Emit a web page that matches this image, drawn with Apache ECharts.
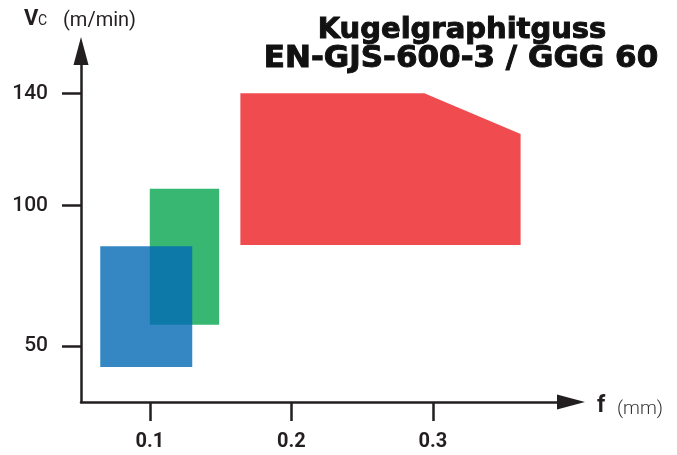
<!DOCTYPE html>
<html>
<head>
<meta charset="utf-8">
<script src="https://cdn.jsdelivr.net/npm/echarts@6/dist/echarts.min.js"></script>
<style>
html,body{margin:0;padding:0;background:#fff;}
#chart{width:677px;height:455px;}
</style>
</head>
<body>
<div id="chart"></div>
<script>
// ---- data ----
const titleLines = ['Kugelgraphitguss', 'EN-GJS-600-3 / GGG 60'];
const xTicks = [0.1, 0.2, 0.3];
const yTicks = [50, 100, 140];
// blue region (feed f in mm, cutting speed Vc in m/min)
const blueF = [0.065, 0.13];
const blueVc = [42.5, 85.5];
// green region
const greenF = [0.1, 0.149];
const greenVc = [57.5, 106];
// red region (polygon outline)
const redF = [0.164, 0.164, 0.294, 0.362, 0.362];
const redVc = [86, 140, 140, 125.5, 86];

const xMin = 0.0514, xMax = 0.3976;
const yMin = 30, yMax = 155.1;

function rectPoints(f, vc) {
  return [[f[0], vc[0]], [f[1], vc[0]], [f[1], vc[1]], [f[0], vc[1]]];
}
function polyPoints(f, vc) {
  return f.map((x, i) => [x, vc[i]]);
}
function polySeries(points, color, z) {
  return {
    type: 'custom',
    coordinateSystem: 'cartesian2d',
    clip: false,
    z: z,
    data: [points[0]],
    renderItem: function (params, api) {
      const pts = points.map(p => api.coord(p));
      return {
        type: 'polygon',
        shape: { points: pts },
        style: { fill: color, stroke: null }
      };
    }
  };
}

const axisColor = '#231f20';
const chart = echarts.init(document.getElementById('chart'), null, { renderer: 'canvas' });
chart.setOption({
  animation: false,
  backgroundColor: '#ffffff',
  grid: { left: 81, right: 106, top: 51, bottom: 53, containLabel: false },
  xAxis: {
    type: 'value', min: xMin, max: xMax,
    splitLine: { show: false },
    axisLine: { onZero: false, lineStyle: { color: axisColor, width: 2.5 }, symbol: ['none', 'triangle'], symbolSize: [15, 28] },
    axisTick: { show: true, length: 19, lineStyle: { color: axisColor, width: 2.5 }, customValues: xTicks },
    axisLabel: { customValues: xTicks, margin: 30, color: axisColor, fontSize: 20, fontFamily: 'Roboto', fontWeight: 'bold' }
  },
  yAxis: {
    type: 'value', min: yMin, max: yMax,
    splitLine: { show: false },
    axisLine: { onZero: false, lineStyle: { color: axisColor, width: 2.5 }, symbol: ['none', 'triangle'], symbolSize: [15, 28] },
    axisTick: { show: true, length: 19, lineStyle: { color: axisColor, width: 2.5 }, customValues: yTicks },
    axisLabel: { customValues: yTicks, margin: 33, color: axisColor, fontSize: 21, fontFamily: 'Roboto', fontWeight: 500 }
  },
  graphic: [
    { type: 'text', x: 462, y: 30, style: { text: titleLines[0], font: 'bold 29px "DejaVu Sans"', fill: '#111', stroke: '#111', lineWidth: 1, align: 'center', verticalAlign: 'middle' } },
    { type: 'text', x: 461, y: 59, style: { text: titleLines[1], font: 'bold 31px "DejaVu Sans"', fill: '#111', stroke: '#111', lineWidth: 1, align: 'center', verticalAlign: 'middle' } },
    { type: 'text', x: 24, y: 19, style: { text: 'V', font: 'bold 22px Roboto', fill: axisColor, align: 'left', verticalAlign: 'middle' } },
    { type: 'text', x: 38, y: 21, style: { text: 'C', font: '14px Roboto', fill: axisColor, align: 'left', verticalAlign: 'middle' } },
    { type: 'text', x: 63, y: 21, style: { text: '(m/min)', font: '20px Roboto', fill: axisColor, align: 'left', verticalAlign: 'middle' } },
    { type: 'text', x: 597, y: 406, style: { text: 'f', font: 'bold 23px Roboto', fill: axisColor, align: 'left', verticalAlign: 'middle' } },
    { type: 'text', x: 617, y: 409, style: { text: '(mm)', font: '300 19px Roboto', fill: '#333', align: 'left', verticalAlign: 'middle' } }
  ],
  series: [
    polySeries(polyPoints(redF, redVc), 'rgb(240,76,80)', 1),
    polySeries(rectPoints(greenF, greenVc), 'rgb(55,183,114)', 2),
    polySeries(rectPoints(blueF, blueVc), 'rgba(2,105,181,0.8)', 3)
  ]
});
</script>
</body>
</html>
